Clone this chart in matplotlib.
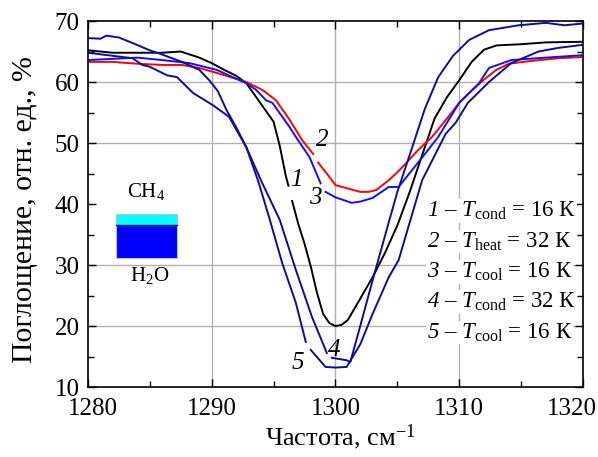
import numpy as np
import matplotlib
matplotlib.use("Agg")
import matplotlib.pyplot as plt
import matplotlib.transforms as mtransforms
from matplotlib.patches import Rectangle

plt.rcParams['font.family'] = ['Liberation Serif', 'DejaVu Serif']
plt.rcParams['mathtext.fontset'] = 'custom'
plt.rcParams['mathtext.rm'] = 'Liberation Serif'
plt.rcParams['mathtext.it'] = 'Liberation Serif:italic'
plt.rcParams['mathtext.cal'] = 'Liberation Serif:italic'   # italic digits

nan = np.nan

# curve 1: T_cond = 16 K (black)
x1 = [1280, 1282, 1284, 1286, 1287.5, 1289, 1290, 1291, 1292, 1292.8, 1293.5, 1294.3,
      1295, 1295.5, 1296, 1296.2, nan, 1296.5, 1297, 1297.5, 1298, 1298.5, 1299, 1299.5,
      1300, 1300.5, 1301, 1302, 1303, 1304, 1305, 1306, 1307, 1308, 1309, 1310, 1311,
      1312, 1313, 1315, 1317, 1320]
y1 = [65.2, 64.8, 64.8, 64.8, 65.0, 64.0, 63.1, 62.0, 61.0, 59.8, 57.8, 55.5,
      53.5, 49.5, 44.5, 43.0, nan, 40.5, 36.7, 33.5, 29.8, 25.5, 22.0, 20.5,
      20.0, 20.2, 21.0, 24.5, 28.0, 32.0, 36.5, 42.0, 48.0, 54.0, 57.5, 60.3, 63.3,
      65.3, 66.0, 66.2, 66.5, 66.6]

# curve 2: T_heat = 32 K (red)
x2 = [1280, 1282, 1284, 1286, 1287.6, 1289, 1290.4, 1292.8, 1294.1, 1295.2, 1296.3,
      1297.3, 1298.2, nan, 1298.6, 1299.3, 1300, 1300.9, 1302, 1302.7, 1303.3, 1304.3,
      1305, 1305.7, 1306.7, 1307.8, 1309, 1310, 1311, 1312, 1313, 1314, 1316, 1318, 1320]
y2 = [63.3, 63.3, 63.0, 62.8, 62.8, 62.3, 61.5, 60.0, 58.7, 57.0, 53.8,
      50.5, 48.2, nan, 46.8, 45.0, 43.1, 42.6, 42.0, 42.0, 42.3, 43.9,
      45.2, 46.7, 48.9, 51.0, 54.0, 56.6, 58.6, 60.4, 62.0, 63.0, 63.5, 63.9, 64.1]

# curve 3: T_cool = 16 K (blue)
x3 = [1280, 1282, 1284, 1286, 1288.2, 1290.4, 1292.8, 1293.6, 1294.4, 1294.9, 1296.3,
      1296.8, 1297.9, 1298.8, nan, 1299.2, 1300, 1301.3, 1302, 1303, 1304.3, 1305.1,
      1306.2, 1307.3, 1308.3, 1310, 1311.6, 1312.4, 1314.2, 1317, 1320]
y3 = [63.6, 63.8, 64.0, 63.6, 63.1, 62.0, 59.8, 58.7, 57.0, 56.6, 52.6,
      51.0, 47.7, 43.4, nan, 42.0, 41.1, 40.2, 40.4, 41.0, 42.8, 42.8,
      45.6, 48.4, 51.0, 56.6, 59.8, 62.3, 63.6, 64.0, 64.4]

# curve 4: T_cond = 32 K (dark blue)
x4 = [1280, 1281, 1281.5, 1282.5, 1283.6, 1285, 1286, 1287.6, 1289, 1289.8, 1290.5,
      1291.2, 1292, 1292.8, 1294, 1295.5, 1296.8, 1298.1, 1299.3, nan, 1299.7, 1300.9,
      1301.2, 1302, 1303, 1304, 1305, 1306.2, 1307.2, 1308.3, 1309.5, 1310.8, 1312.4,
      1314.8, 1317, 1318.5, 1320]
y4 = [67.2, 67.1, 67.6, 67.3, 66.4, 65.2, 64.5, 63.3, 62.0, 60.3, 58.5,
      55.4, 52.5, 49.3, 43.8, 37.4, 29.2, 21.5, 15.6, nan, 14.8, 14.4,
      14.1, 20.0, 27.5, 34.8, 42.0, 49.3, 55.5, 60.8, 64.3, 66.9, 68.5,
      69.3, 69.7, 69.3, 69.6]

# curve 5: T_cool = 16 K (dark blue)
x5 = [1280, 1282, 1283.6, 1284.4, 1285, 1286.4, 1287.2, 1288.5, 1290.1, 1291.4, 1292.8,
      1293.8, 1294.7, 1295.7, 1296.8, 1297.6, nan, 1298, 1299.2, 1300, 1300.9, 1302,
      1303, 1304.3, 1305.1, 1307, 1308.9, 1309.7, 1310.7, 1312.4, 1314.2, 1316.4,
      1318, 1320]
y5 = [64.8, 64.3, 63.9, 62.8, 62.5, 61.1, 60.8, 58.2, 56.2, 54.3, 49.3,
      43.5, 37.4, 30.3, 23.8, 17.4, nan, 16.1, 13.3, 13.2, 13.3, 17.0,
      22.0, 28.0, 30.8, 43.9, 51.5, 53.3, 56.6, 60.0, 63.1, 65.0,
      65.6, 66.1]

curves = [(x1, y1, 'black'), (x2, y2, '#ff0000'), (x3, y3, '#1010ff'),
          (x4, y4, '#0c0ca0'), (x5, y5, '#0c0ca0')]

curve_ids = ["1", "2", "3", "4", "5"]
legend_lines = [
    r"$\mathcal{1}$ – $\mathit{T}_{\mathrm{cond}}$ = 16 К",
    r"$\mathcal{2}$ – $\mathit{T}_{\mathrm{heat}}$ = 32 К",
    r"$\mathcal{3}$ – $\mathit{T}_{\mathrm{cool}}$ = 16 К",
    r"$\mathcal{4}$ – $\mathit{T}_{\mathrm{cond}}$ = 32 К",
    r"$\mathcal{5}$ – $\mathit{T}_{\mathrm{cool}}$ = 16 К",
]

fig = plt.figure(figsize=(5.98, 4.57), dpi=100)
ax = fig.add_axes([0.147, 0.153, 0.828, 0.801])

for xv in [1290, 1300, 1310]:
    ax.axvline(xv, color='#b0b0b0', lw=1.0, zorder=0)
for yv in [20, 30, 50, 60]:
    ax.axhline(yv, color='#b0b0b0', lw=1.0, zorder=0)

for xs, ys, c in curves:
    ax.plot(xs, ys, color=c, lw=1.4, zorder=2)

ax.set_xlim(1280, 1320)
ax.set_ylim(10, 70)
ax.set_xticks([1280, 1290, 1300, 1310, 1320])
ax.set_yticks([10, 20, 30, 40, 50, 60, 70])
ax.set_xticks(np.arange(1285, 1320, 10), minor=True)
ax.set_yticks(np.arange(15, 70, 10), minor=True)
ax.tick_params(which='both', direction='in', top=True, right=True, labelsize=18, width=1.0)
ax.tick_params(which='major', length=6)
ax.tick_params(axis='x', which='major', pad=8)
ax.tick_params(axis='y', which='major', pad=6)
ax.tick_params(which='minor', length=4)
for s in ax.spines.values():
    s.set_linewidth(1.2)

# keep the end labels inside the picture
xlabs = ax.get_xticklabels()
xlabs[0].set_transform(xlabs[0].get_transform() +
                       mtransforms.ScaledTranslation(5 / 100, 0, fig.dpi_scale_trans))
xlabs[-1].set_transform(xlabs[-1].get_transform() +
                        mtransforms.ScaledTranslation(-11 / 100, 0, fig.dpi_scale_trans))

fig.text(340 / 598, 1 - 437 / 457, "Частота, см$^{-1}$", fontsize=19,
         ha='center', va='center')
fig.text(25 / 598, 1 - 210 / 457, "Поглощение, отн. ед., %", fontsize=21.5,
         rotation=90, ha='center', va='center')

# curve numbers
lab_kw = dict(fontsize=18, style='italic', ha='center', va='center', zorder=3)
lab_pos = [(1296.8, 44.0), (1298.9, 50.5), (1298.4, 41.0), (1299.9, 16.0), (1297.0, 14.0)]
for cid, (px, py) in zip(curve_ids, lab_pos):
    ax.text(px, py, cid, **lab_kw)

# legend text
for i, s in enumerate(legend_lines):
    ax.text(0.685, 0.4645 - i * 0.0828, s, transform=ax.transAxes, fontsize=16.5,
            ha='left', va='baseline', zorder=4,
            bbox=dict(facecolor='white', edgecolor='none', pad=0.5))

# inset sketch: CH4 on H2O
ax.add_patch(Rectangle((0.057, 0.352), 0.123, 0.091, transform=ax.transAxes,
                       facecolor='#0000ff', edgecolor='#c0c0c0', lw=0.8, zorder=3))
ax.add_patch(Rectangle((0.057, 0.443), 0.123, 0.030, transform=ax.transAxes,
                       facecolor='#00ffff', edgecolor='#c0c0c0', lw=0.8, zorder=3))
ax.plot([0.057, 0.180], [0.443, 0.443], transform=ax.transAxes, color='#202060', lw=1.0, zorder=4)
ax.text(0.118, 0.535, "CH$_4$", transform=ax.transAxes, fontsize=15, ha='center', va='center')
ax.text(0.125, 0.305, "H$_2$O", transform=ax.transAxes, fontsize=15, ha='center', va='center')

fig.savefig("out.png", dpi=100)
